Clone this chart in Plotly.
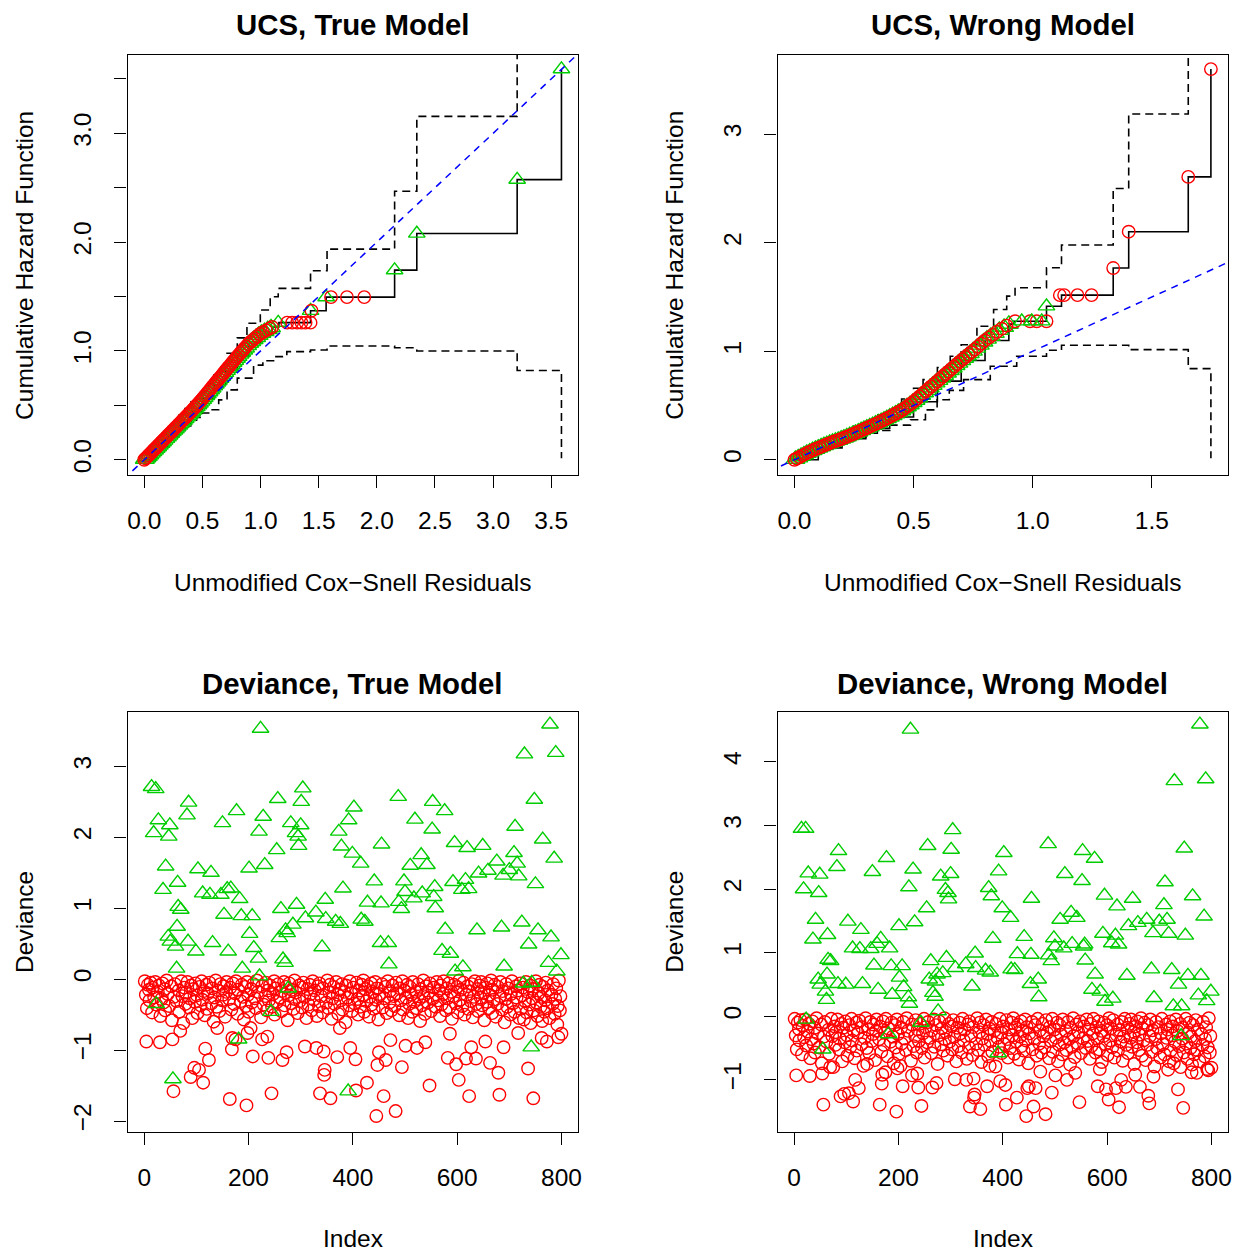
import plotly.graph_objects as go

# ================= DATA =================
# ---- UCS, True Model (cumulative hazard of unmodified Cox-Snell residuals)
ucs_true_step_x = [0, 0.1, 0.2, 0.3, 0.4, 0.5, 0.6, 0.7, 0.8, 0.9, 1.0, 1.1, 1.158, 1.43, 1.564, 2.153, 2.344, 3.207, 3.588]
ucs_true_step_h = [0, 0.11, 0.22, 0.33, 0.44, 0.56, 0.69, 0.82, 0.95, 1.07, 1.16, 1.22, 1.26, 1.37, 1.495, 1.743, 2.08, 2.575, 3.59]
ucs_true_upper_x = [0, 0.05, 0.1, 0.15, 0.2, 0.25, 0.3, 0.35, 0.4, 0.45, 0.5, 0.55, 0.6, 0.66, 0.712, 0.8, 0.883, 0.998,
                    1.083, 1.152, 1.43, 1.572, 2.153, 2.344, 3.207]
ucs_true_upper_h = [0.06, 0.12, 0.18, 0.235, 0.29, 0.35, 0.41, 0.47, 0.53, 0.56, 0.63, 0.70, 0.78, 0.87, 0.979, 1.12, 1.254,
                    1.376, 1.498, 1.575, 1.737, 1.936, 2.468, 3.156, 5.0]
ucs_true_lower_x = [0, 0.05, 0.1, 0.15, 0.2, 0.25, 0.3, 0.35, 0.4, 0.45, 0.5, 0.569, 0.64, 0.712, 0.8, 0.94, 1.02, 1.112,
                    1.226, 1.43, 1.572, 2.153, 2.344, 3.207, 3.588]
ucs_true_lower_h = [0, 0.04, 0.09, 0.14, 0.18, 0.225, 0.27, 0.31, 0.35, 0.39, 0.43, 0.459, 0.55, 0.642, 0.75, 0.87, 0.91,
                    0.948, 0.994, 1.009, 1.046, 1.03, 1.0, 0.82, 0.015]
ucs_true_cens_x = [0.000, 0.011, 0.024, 0.036, 0.049, 0.062, 0.077, 0.090, 0.104, 0.117, 0.131, 0.146, 0.158, 0.172, 0.187,
                   0.201, 0.214, 0.229, 0.243, 0.256, 0.270, 0.284, 0.297, 0.311, 0.326, 0.339, 0.352, 0.366, 0.381, 0.395,
                   0.408, 0.421, 0.435, 0.449, 0.462, 0.476, 0.490, 0.503, 0.517, 0.530, 0.544, 0.558, 0.571, 0.585, 0.599,
                   0.612, 0.626, 0.640, 0.654, 0.668, 0.681, 0.695, 0.709, 0.723, 0.737, 0.752, 0.766, 0.781, 0.795, 0.810,
                   0.826, 0.842, 0.858, 0.875, 0.893, 0.911, 0.930, 0.950, 0.972, 0.995, 1.020, 1.048, 1.077, 1.100,
                   1.229, 1.272, 1.315, 1.352, 1.387, 1.43, 1.438, 1.606, 1.743, 1.892]
ucs_true_cens_h = [0.000, 0.012, 0.026, 0.040, 0.054, 0.068, 0.085, 0.099, 0.114, 0.129, 0.144, 0.161, 0.174, 0.189, 0.206,
                   0.221, 0.235, 0.252, 0.267, 0.282, 0.297, 0.312, 0.327, 0.342, 0.359, 0.373, 0.387, 0.403, 0.419, 0.435,
                   0.450, 0.465, 0.482, 0.499, 0.514, 0.531, 0.548, 0.564, 0.582, 0.599, 0.617, 0.635, 0.652, 0.671, 0.689,
                   0.706, 0.724, 0.742, 0.760, 0.778, 0.795, 0.814, 0.832, 0.850, 0.868, 0.888, 0.906, 0.925, 0.944, 0.962,
                   0.981, 1.000, 1.020, 1.040, 1.062, 1.080, 1.097, 1.115, 1.135, 1.156, 1.172, 1.189, 1.206, 1.220,
                   1.26, 1.26, 1.26, 1.26, 1.26, 1.26, 1.37, 1.495, 1.495, 1.495]
ucs_true_event_x = [0.005, 0.018, 0.030, 0.043, 0.056, 0.069, 0.083, 0.097, 0.110, 0.124, 0.139, 0.152, 0.165, 0.180, 0.194,
                    0.208, 0.222, 0.236, 0.250, 0.263, 0.277, 0.291, 0.304, 0.318, 0.332, 0.346, 0.359, 0.373, 0.388, 0.402,
                    0.415, 0.428, 0.442, 0.456, 0.469, 0.483, 0.497, 0.510, 0.524, 0.537, 0.551, 0.565, 0.578, 0.592, 0.606,
                    0.619, 0.633, 0.647, 0.661, 0.675, 0.688, 0.702, 0.716, 0.730, 0.744, 0.759, 0.773, 0.788, 0.802, 0.818,
                    0.834, 0.850, 0.866, 0.884, 0.902, 0.920, 0.940, 0.961, 0.983, 1.007, 1.034, 1.062, 1.090,
                    1.152, 1.43, 1.564, 2.153, 2.344, 3.207, 3.588]
ucs_true_event_h = [0.006, 0.020, 0.033, 0.047, 0.062, 0.076, 0.091, 0.107, 0.121, 0.136, 0.153, 0.167, 0.182, 0.198, 0.213,
                    0.229, 0.244, 0.260, 0.275, 0.289, 0.305, 0.320, 0.334, 0.350, 0.365, 0.381, 0.395, 0.410, 0.427, 0.442,
                    0.458, 0.474, 0.490, 0.507, 0.523, 0.540, 0.556, 0.573, 0.591, 0.608, 0.626, 0.644, 0.661, 0.680, 0.698,
                    0.715, 0.733, 0.751, 0.769, 0.788, 0.804, 0.823, 0.841, 0.859, 0.877, 0.897, 0.915, 0.934, 0.952, 0.972,
                    0.991, 1.010, 1.029, 1.051, 1.072, 1.088, 1.106, 1.125, 1.145, 1.164, 1.180, 1.197, 1.214,
                    1.26, 1.37, 1.495, 1.743, 2.08, 2.575, 3.59]

# ---- UCS, Wrong Model
ucs_wrong_step_x = [0, 0.1, 0.2, 0.3, 0.4, 0.5, 0.6, 0.7, 0.8, 0.9, 0.92, 1.058, 1.121, 1.338, 1.403, 1.653, 1.748]
ucs_wrong_step_h = [0, 0.11, 0.195, 0.29, 0.395, 0.535, 0.725, 0.915, 1.10, 1.25, 1.277, 1.415, 1.517, 1.767, 2.102, 2.607, 3.60]
ucs_wrong_upper_x = [0, 0.05, 0.1, 0.15, 0.2, 0.25, 0.3, 0.35, 0.4, 0.45, 0.5, 0.54, 0.6, 0.654, 0.7, 0.766, 0.836, 0.891,
                     0.926, 1.058, 1.121, 1.338, 1.403, 1.653]
ucs_wrong_upper_h = [0.07, 0.125, 0.17, 0.215, 0.26, 0.31, 0.36, 0.415, 0.475, 0.56, 0.66, 0.739, 0.85, 0.954, 1.06, 1.231,
                     1.385, 1.508, 1.585, 1.77, 1.979, 2.5, 3.186, 5.0]
ucs_wrong_lower_x = [0, 0.05, 0.1, 0.15, 0.2, 0.25, 0.3, 0.348, 0.4, 0.487, 0.55, 0.599, 0.65, 0.71, 0.822, 0.933, 1.058,
                     1.121, 1.403, 1.653, 1.748]
ucs_wrong_lower_h = [0, 0.05, 0.095, 0.14, 0.175, 0.21, 0.245, 0.27, 0.32, 0.369, 0.46, 0.554, 0.64, 0.739, 0.862, 0.954,
                     1.009, 1.055, 1.015, 0.84, 0.015]
ucs_wrong_cens_x = [0.000, 0.010, 0.022, 0.034, 0.046, 0.058, 0.070, 0.082, 0.094, 0.106, 0.118, 0.130, 0.142, 0.154, 0.166,
                    0.178, 0.190, 0.202, 0.214, 0.226, 0.238, 0.250, 0.262, 0.274, 0.286, 0.298, 0.310, 0.322, 0.334, 0.346,
                    0.358, 0.370, 0.382, 0.394, 0.406, 0.418, 0.430, 0.442, 0.454, 0.466, 0.478, 0.490, 0.502, 0.514, 0.526,
                    0.538, 0.550, 0.562, 0.574, 0.586, 0.598, 0.610, 0.622, 0.634, 0.646, 0.658, 0.670, 0.682, 0.694, 0.706,
                    0.718, 0.730, 0.742, 0.756, 0.770, 0.785, 0.800, 0.816, 0.832, 0.850, 0.870, 0.890,
                    0.926, 0.989, 1.017, 1.058, 1.114, 1.132, 1.188, 1.247, 1.338, 1.403, 1.653, 1.748]
ucs_wrong_cens_h = [0.000, 0.012, 0.026, 0.041, 0.055, 0.068, 0.080, 0.092, 0.104, 0.115, 0.126, 0.137, 0.148, 0.158, 0.168,
                    0.177, 0.187, 0.197, 0.208, 0.218, 0.229, 0.240, 0.252, 0.264, 0.276, 0.288, 0.300, 0.312, 0.324, 0.336,
                    0.349, 0.362, 0.375, 0.388, 0.402, 0.417, 0.431, 0.445, 0.461, 0.480, 0.500, 0.519, 0.539, 0.562, 0.584,
                    0.607, 0.630, 0.653, 0.676, 0.698, 0.721, 0.744, 0.767, 0.790, 0.812, 0.835, 0.858, 0.881, 0.904, 0.926,
                    0.947, 0.969, 0.991, 1.016, 1.043, 1.072, 1.100, 1.126, 1.151, 1.180, 1.208, 1.236,
                    1.277, 1.277, 1.277, 1.277, 1.517, 1.517, 1.517, 1.517, 1.767, 2.102, 2.607, 3.60]
ucs_wrong_event_x = [0.004, 0.016, 0.028, 0.040, 0.052, 0.064, 0.076, 0.088, 0.100, 0.112, 0.124, 0.136, 0.148, 0.160, 0.172,
                     0.184, 0.196, 0.208, 0.220, 0.232, 0.244, 0.256, 0.268, 0.280, 0.292, 0.304, 0.316, 0.328, 0.340, 0.352,
                     0.364, 0.376, 0.388, 0.400, 0.412, 0.424, 0.436, 0.448, 0.460, 0.472, 0.484, 0.496, 0.508, 0.520, 0.532,
                     0.544, 0.556, 0.568, 0.580, 0.592, 0.604, 0.616, 0.628, 0.640, 0.652, 0.664, 0.676, 0.688, 0.700, 0.712,
                     0.724, 0.736, 0.749, 0.763, 0.778, 0.793, 0.808, 0.824, 0.841, 0.860, 0.880, 0.900,
                     0.954, 0.996, 1.038, 1.058]
ucs_wrong_event_h = [0.005, 0.019, 0.034, 0.048, 0.062, 0.074, 0.086, 0.098, 0.110, 0.121, 0.132, 0.142, 0.153, 0.163, 0.173,
                     0.182, 0.192, 0.202, 0.213, 0.224, 0.234, 0.246, 0.258, 0.270, 0.282, 0.294, 0.306, 0.318, 0.330, 0.342,
                     0.355, 0.368, 0.382, 0.395, 0.409, 0.424, 0.438, 0.453, 0.471, 0.490, 0.509, 0.529, 0.550, 0.573, 0.596,
                     0.619, 0.641, 0.664, 0.687, 0.710, 0.733, 0.755, 0.778, 0.801, 0.824, 0.847, 0.870, 0.892, 0.915, 0.937,
                     0.958, 0.980, 1.003, 1.030, 1.058, 1.087, 1.113, 1.139, 1.166, 1.194, 1.222, 1.250,
                     1.277, 1.277, 1.277, 1.415]

# ---- Deviance residuals (index = observation number; same observations in both models)
event_idx = [223, 14, 22, 85, 256, 304, 301, 402, 27, 49, 18, 47, 82, 177, 150, 228, 220, 281, 300, 290, 295, 296,
             373, 378, 392, 399, 254, 41, 103, 128, 201, 231, 64, 36, 112, 126, 147, 166, 159, 183, 381, 65, 70,
             153, 186, 207, 262, 292, 329, 347, 309, 348, 367, 376, 63, 46, 50, 60, 84, 99, 131, 161, 202, 210,
             219, 259, 271, 285, 274, 266, 270, 341, 62, 188, 221, 23, 276, 243, 181, 55, 391,
             778, 729, 789, 487, 553, 576, 748, 519, 552, 711, 455, 595, 619, 649, 764, 531, 709, 415, 510, 542,
             676, 786, 715, 641, 659, 688, 700, 718, 441, 498, 592, 616, 750, 557, 609, 622, 500, 517, 533, 488,
             493, 555, 558, 428, 454, 416, 423, 577, 638, 685, 724, 755, 780, 737, 453, 468, 469, 571, 587, 799,
             775, 690, 611, 596, 791, 727, 743, 742]
dev_true_event = [3.53, 2.71, 2.68, 2.49, 2.54, 2.69, 2.50, 2.42, 2.24, 2.17, 2.06, 2.01, 2.31, 2.37, 2.20, 2.29, 2.08,
                  2.20, 2.17, 2.06, 2.01, 1.88, 2.08, 1.87, 2.24, 1.77, 1.82, 1.59, 1.55, 1.50, 1.56, 1.61, 1.36, 1.26,
                  1.21, 1.19, 1.19, 1.28, 1.27, 1.13, 1.28, 1.02, 0.98, 0.91, 0.89, 0.89, 0.99, 1.05, 0.94, 1.12, 0.86,
                  0.85, 0.81, 0.78, 0.74, 0.60, 0.53, 0.46, 0.53, 0.39, 0.51, 0.39, 0.64, 0.44, 0.29, 0.58, 0.69, 0.77,
                  0.65, 0.28, 0.23, 0.45, 0.15, 0.15, 0.04, -0.35, -0.13, -0.46, -0.85, -1.41, -1.58,
                  3.59, 3.17, 3.19, 2.57, 2.50, 2.37, 2.53, 2.25, 2.11, 2.15, 1.90, 1.92, 1.85, 1.88, 1.97, 1.75, 1.78,
                  1.63, 1.60, 1.61, 1.66, 1.70, 1.63, 1.49, 1.53, 1.46, 1.54, 1.45, 1.38, 1.38, 1.37, 1.40, 1.34, 1.30,
                  1.26, 1.27, 1.23, 1.14, 1.21, 1.09, 0.99, 1.16, 1.00, 1.08, 1.07, 0.84, 0.81, 0.70, 0.69, 0.73, 0.80,
                  0.69, 0.59, 0.49, 0.51, 0.51, 0.21, 0.40, 0.36, 0.34, 0.23, 0.18, 0.17, 0.11, 0.11, -0.06, -0.05, -0.96]
dev_wrong_event = [4.51, 2.95, 2.95, 2.60, 2.68, 2.93, 2.62, 2.57, 2.25, 2.23, 2.00, 1.94, 2.35, 2.49, 2.27, 2.31, 2.03,
                   2.20, 2.24, 1.99, 1.94, 1.84, 2.02, 1.89, 2.28, 1.70, 1.70, 1.52, 1.49, 1.36, 1.42, 1.48, 1.28, 1.21,
                   1.07, 1.06, 1.06, 1.22, 1.14, 1.07, 1.22, 0.89, 0.87, 0.80, 0.79, 0.79, 0.87, 0.92, 0.82, 0.99, 0.76,
                   0.76, 0.72, 0.69, 0.66, 0.58, 0.50, 0.39, 0.51, 0.50, 0.51, 0.42, 0.61, 0.46, 0.30, 0.58, 0.55, 0.68,
                   0.66, 0.37, 0.31, 0.47, 0.26, 0.34, 0.20, -0.05, 0.08, -0.10, -0.28, -0.52, -0.58,
                   4.59, 3.70, 3.73, 2.71, 2.60, 2.48, 2.64, 2.24, 2.13, 2.11, 1.85, 1.90, 1.73, 1.85, 1.89, 1.63, 1.75,
                   1.55, 1.52, 1.55, 1.52, 1.57, 1.52, 1.42, 1.47, 1.31, 1.49, 1.30, 1.25, 1.23, 1.30, 1.27, 1.27, 1.13,
                   1.15, 1.13, 1.10, 1.07, 1.14, 0.96, 0.87, 1.10, 0.88, 0.98, 0.97, 0.74, 0.73, 0.66, 0.64, 0.74, 0.73,
                   0.64, 0.64, 0.50, 0.51, 0.58, 0.30, 0.42, 0.39, 0.39, 0.33, 0.29, 0.28, 0.23, 0.24, 0.16, 0.16, -0.31]

cens_band_idx = [1, 3, 5, 7, 9, 10, 12, 15, 16, 19, 21, 23, 26, 28, 31, 33, 35, 37, 39, 40, 43, 45, 48, 52, 53, 57, 59, 62, 66, 67, 71, 73, 75, 77, 79,
                 80, 83, 86, 87, 90, 92, 94, 97, 98, 101, 102, 106, 108, 110, 111, 114, 116, 119, 120, 122, 125, 129, 130, 133, 135, 137, 139, 142, 144, 146, 149, 151, 152, 155, 157, 158,
                 163, 165, 167, 170, 172, 174, 176, 179, 180, 185, 187, 189, 191, 193, 195, 197, 199, 200, 205, 206, 209, 212, 214, 216, 218, 224, 226, 229, 232, 233, 235, 237, 239,
                 241, 245, 247, 249, 250, 252, 255, 257, 260, 263, 264, 268, 269, 272, 275, 277, 278, 282, 283, 286, 288, 289, 291, 294, 297, 298, 302, 303, 305, 307, 311, 313, 315, 317, 319,
                 321, 323, 325, 327, 331, 333, 335, 336, 339, 342, 343, 349, 351, 353, 355, 356, 359, 361, 363, 365, 368, 371, 372, 374, 377, 379, 380, 384, 386, 387, 390, 393, 394, 397, 398,
                 400, 403, 407, 409, 410, 412, 414, 417, 419, 420, 422, 424, 426, 429, 431, 433, 435, 436, 438, 440, 443, 444, 446, 449, 451, 456, 457, 460, 462, 465, 467, 470, 471, 474, 476, 478,
                 480, 483, 485, 489, 490, 492, 495, 496, 499, 502, 504, 506, 508, 509, 512, 514, 515, 518, 521, 522, 525, 527, 529, 530, 533, 535, 536, 538, 541, 544, 545, 548, 550, 554, 556, 559,
                 561, 563, 565, 567, 568, 570, 573, 574, 578, 580, 581, 584, 585, 589, 590, 593, 594, 597, 600, 601, 604, 606, 607, 610, 612, 614, 618, 620, 621, 624, 626, 628, 630, 632, 634, 637, 639,
                 640, 643, 645, 646, 648, 651, 652, 655, 657, 658, 661, 662, 665, 667, 668, 670, 672, 674, 677, 678, 682, 683, 686, 687, 691, 693, 694, 696, 698, 702, 703, 705, 707, 710, 713, 714, 716, 719,
                 721, 722, 725, 726, 728, 730, 732, 733, 735, 738, 740, 741, 744, 745, 747, 751, 752, 754, 756, 758, 760, 761, 763, 765, 767, 769, 770, 773, 774, 777, 781, 783, 784, 787, 788, 790, 792, 793, 795, 797, 798]
# deviance x100 (censored observations are all negative)
dev_true_band = [-3, -22, -41, -8, -15, -30, -5, -47, -12, -26, -4, -36, -18, -9, -52, -28, -6, -33, -14, -44, -2, -21, -38, -10, -58, -25, -7, -31, -16, -46, -3, -24, -62, -12, -35,
                 -19, -4, -40, -27, -9, -55, -14, -32, -6, -23, -48, -11, -37, -3, -29, -17, -51, -8, -42, -20, -5, -34, -13, -60, -26, -2, -39, -16, -45, -7, -30, -22, -10, -53, -18, -4,
                 -28, -12, -43, -6, -35, -20, -3, -49, -15, -31, -8, -25, -57, -11, -38, -4, -22, -46, -14, -33, -7, -27, -41, -2, -18, -54, -10, -36, -24, -5, -44, -16, -30,
                 -9, -39, -21, -3, -50, -13, -32, -7, -26, -45, -17, -4, -37, -11, -58, -23, -6, -34, -15, -42, -2, -28, -19, -48, -9, -31, -12, -40, -5, -25, -55, -14, -36, -8, -21,
                 -44, -3, -29, -16, -52, -10, -38, -6, -24, -47, -13, -33, -2, -41, -19, -8, -56, -27, -11, -35, -4, -22, -49, -15, -30, -7, -43, -18, -61, -9, -26, -37, -3, -20, -45,
                 -12, -34, -5, -28, -50, -16, -39, -8, -23, -2, -46, -14, -31, -10, -53, -25, -6, -36, -18, -42, -4, -29, -13, -57, -21, -7, -40, -27, -11, -48, -3, -33, -17, -44, -9, -24,
                 -38, -5, -20, -51, -13, -30, -3, -43, -16, -26, -8, -55, -35, -11, -22, -46, -4, -32, -18, -41, -7, -28, -59, -14, -37, -2, -24, -49, -10, -33, -19, -6, -45, -27, -12, -39,
                 -4, -30, -16, -52, -9, -36, -21, -3, -44, -13, -27, -6, -40, -18, -56, -24, -8, -34, -11, -47, -2, -29, -15, -38, -5, -50, -22, -10, -42, -17, -31, -7, -54, -25, -3, -35, -14,
                 -45, -9, -26, -4, -37, -19, -58, -12, -32, -6, -41, -22, -2, -48, -15, -29, -8, -53, -35, -11, -24, -4, -43, -17, -61, -28, -7, -39, -13, -50, -21, -3, -34, -46, -10, -26, -16, -55,
                 -6, -42, -23, -12, -57, -31, -4, -47, -18, -36, -9, -62, -27, -14, -44, -3, -33, -52, -20, -8, -39, -25, -59, -11, -46, -30, -5, -41, -16, -55, -22, -35, -7, -49, -28, -13, -64, -38, -2, -44, -24]
dev_wrong_band = [-4, -30, -52, -10, -20, -38, -6, -60, -15, -33, -5, -46, -24, -12, -66, -36, -8, -43, -18, -57, -3, -27, -49, -13, -74, -32, -9, -40, -21, -59, -4, -31, -80, -16, -45,
                  -25, -5, -52, -35, -12, -71, -18, -41, -8, -30, -62, -14, -48, -4, -38, -22, -66, -10, -54, -26, -7, -44, -17, -78, -34, -3, -50, -21, -58, -9, -39, -28, -13, -69, -23, -5,
                  -36, -16, -56, -8, -45, -26, -4, -63, -19, -40, -10, -32, -74, -14, -49, -5, -28, -60, -18, -43, -9, -35, -53, -3, -23, -70, -13, -47, -31, -6, -57, -21, -39,
                  -12, -50, -27, -4, -65, -17, -41, -9, -34, -58, -22, -5, -48, -14, -75, -30, -8, -44, -19, -54, -3, -36, -25, -62, -12, -40, -16, -52, -6, -32, -71, -18, -47, -10, -27,
                  -57, -4, -38, -21, -67, -13, -49, -8, -31, -61, -17, -43, -3, -53, -25, -10, -72, -35, -14, -45, -5, -28, -63, -19, -39, -9, -56, -23, -79, -12, -34, -48, -4, -26, -58,
                  -16, -44, -6, -36, -65, -21, -50, -10, -30, -3, -59, -18, -40, -13, -68, -32, -8, -47, -23, -54, -5, -38, -17, -74, -27, -9, -52, -35, -14, -62, -4, -43, -22, -57, -12, -31,
                  -49, -6, -26, -66, -17, -39, -4, -56, -21, -34, -10, -71, -45, -14, -29, -60, -5, -41, -23, -53, -9, -36, -76, -18, -48, -3, -31, -64, -13, -43, -25, -8, -58, -35, -16, -50,
                  -5, -39, -21, -67, -12, -47, -27, -4, -57, -17, -35, -8, -52, -23, -72, -31, -10, -44, -14, -61, -3, -38, -19, -49, -6, -65, -29, -13, -54, -22, -40, -9, -70, -32, -4, -45, -18,
                  -58, -12, -34, -5, -48, -25, -75, -16, -41, -8, -53, -29, -3, -62, -19, -38, -10, -69, -45, -14, -31, -5, -56, -22, -79, -36, -9, -50, -17, -65, -27, -4, -44, -60, -13, -34, -21, -71,
                  -8, -54, -30, -16, -74, -40, -5, -61, -23, -47, -12, -80, -35, -18, -57, -4, -43, -67, -26, -10, -50, -32, -76, -14, -60, -39, -6, -53, -21, -71, -28, -45, -9, -63, -36, -17, -83, -49, -3, -57, -31]

cens_low_idx = [4, 30, 54, 56, 69, 89, 96, 105, 113, 117, 124, 140, 164, 168, 169, 175, 196, 198, 204, 208, 226, 236, 238,
                244, 265, 273, 308, 330, 337, 344, 345, 346, 357, 370, 375, 395, 405, 406, 427, 445, 447, 450, 459, 463,
                472, 482, 494, 501, 523, 539, 547, 582, 586, 598, 603, 617, 623, 627, 636, 654, 663, 679, 681, 689, 717,
                736, 746, 762, 772, 794, 800]
dev_true_low = [-0.88, -0.89, -0.85, -1.58, -0.73, -1.38, -1.25, -1.28, -1.46, -0.98, -1.14, -0.69, -1.69, -0.99, -0.83,
                -0.85, -1.78, -0.76, -0.69, -1.09, -0.85, -0.81, -1.11, -1.61, -1.14, -1.03, -0.95, -0.97, -1.61, -1.02,
                -1.35, -1.28, -1.68, -1.10, -0.69, -0.97, -1.13, -1.57, -1.46, -1.93, -1.21, -1.03, -1.65, -1.14, -0.86,
                -1.86, -1.24, -0.94, -0.97, -0.89, -1.50, -1.11, -0.77, -1.20, -1.42, -1.12, -1.65, -0.96, -1.12, -0.88,
                -1.18, -1.32, -1.63, -0.96, -0.76, -1.26, -1.68, -0.83, -0.88, -0.82, -0.77]
dev_wrong_low = [-0.93, -0.94, -0.90, -1.39, -0.80, -1.26, -1.22, -1.21, -1.34, -1.00, -1.13, -0.75, -1.39, -1.06, -0.92,
                 -0.88, -1.50, -0.82, -0.78, -1.10, -0.93, -0.90, -1.12, -1.41, -1.12, -1.05, -0.99, -1.00, -1.42, -0.98,
                 -1.28, -1.23, -1.46, -1.10, -0.78, -1.02, -1.08, -1.39, -1.28, -1.57, -1.13, -1.10, -1.42, -1.13, -0.87,
                 -1.54, -1.20, -0.93, -1.00, -0.89, -1.35, -1.10, -0.83, -1.15, -1.31, -1.13, -1.43, -1.00, -1.11, -0.92,
                 -1.11, -1.25, -1.37, -0.95, -0.84, -1.15, -1.44, -0.88, -0.89, -0.85, -0.81]

# ---- Tick labels
ucs_true_xticks = [0, 0.5, 1.0, 1.5, 2.0, 2.5, 3.0, 3.5]
ucs_true_xtext = ["0.0", "0.5", "1.0", "1.5", "2.0", "2.5", "3.0", "3.5"]
ucs_true_yticks = [0, 0.5, 1.0, 1.5, 2.0, 2.5, 3.0, 3.5]
ucs_true_ytext = ["0.0", "", "1.0", "", "2.0", "", "3.0", ""]
ucs_wrong_xticks = [0, 0.5, 1.0, 1.5]
ucs_wrong_xtext = ["0.0", "0.5", "1.0", "1.5"]
ucs_wrong_yticks = [0, 1, 2, 3]
ucs_wrong_ytext = ["0", "1", "2", "3"]
dev_xticks = [0, 200, 400, 600, 800]
dev_xtext = ["0", "200", "400", "600", "800"]
dev_true_yticks = [-2, -1, 0, 1, 2, 3]
dev_true_ytext = ["\u22122", "\u22121", "0", "1", "2", "3"]
dev_wrong_yticks = [-1, 0, 1, 2, 3, 4]
dev_wrong_ytext = ["\u22121", "0", "1", "2", "3", "4"]

# ================= STYLE / LAYOUT =================
W, H = 1248, 1253
FONT = "Liberation Sans, Arial, Helvetica, sans-serif"
FS = 24.5
RED = "#FF0000"
GREEN = "#00CD00"
BLUE = "#0000FF"

XD_L = [128 / W, 580 / W]
XD_R = [780 / W, 1232 / W]
YD_T = [1 - 475 / H, 1 - 55 / H]
YD_B = [1 - 1132 / H, 1 - 712 / H]

fig = go.Figure()


def step_line(x, y, xa, ya, dash=None, width=1.6):
    fig.add_trace(go.Scatter(x=x, y=y, mode="lines", line=dict(color="black", width=width, shape="hv", dash=dash),
                             xaxis=xa, yaxis=ya, hoverinfo="skip", showlegend=False))


def pts(x, y, xa, ya, kind, tri_size=14.5):
    if kind == "c":
        m = dict(symbol="circle-open", size=12.5, color=RED, line=dict(color=RED, width=1.4))
    else:
        m = dict(symbol="triangle-up-open", size=tri_size, color=GREEN, line=dict(color=GREEN, width=1.4))
    fig.add_trace(go.Scatter(x=x, y=y, mode="markers", marker=m, xaxis=xa, yaxis=ya,
                             showlegend=False, cliponaxis=True))


def ref_line(xa, ya, lo, hi):
    fig.add_trace(go.Scatter(x=[lo, hi], y=[lo, hi], mode="lines",
                             line=dict(color=BLUE, width=1.5, dash="7px,6px"),
                             xaxis=xa, yaxis=ya, hoverinfo="skip", showlegend=False))


def split(xs, hs, cut):
    dense = [(a, b) for a, b in zip(xs, hs) if a < cut]
    sparse = [(a, b) for a, b in zip(xs, hs) if a >= cut]
    return ([a for a, _ in dense], [b for _, b in dense]), ([a for a, _ in sparse], [b for _, b in sparse])


DASH = "8px,5px"
# Panel 1: UCS true
step_line(ucs_true_upper_x, ucs_true_upper_h, "x", "y", DASH)
step_line(ucs_true_lower_x, ucs_true_lower_h, "x", "y", DASH)
step_line(ucs_true_step_x, ucs_true_step_h, "x", "y")
(td_x, td_h), (ts_x, ts_h) = split(ucs_true_event_x, ucs_true_event_h, 1.12)
pts(td_x, td_h, "x", "y", "t", 16.5)
pts(ts_x, ts_h, "x", "y", "t")
pts(ucs_true_cens_x, ucs_true_cens_h, "x", "y", "c")
ref_line("x", "y", -1, 5)

# Panel 2: UCS wrong
step_line(ucs_wrong_upper_x, ucs_wrong_upper_h, "x2", "y2", DASH)
step_line(ucs_wrong_lower_x, ucs_wrong_lower_h, "x2", "y2", DASH)
step_line(ucs_wrong_step_x, ucs_wrong_step_h, "x2", "y2")
(wd_x, wd_h), (ws_x, ws_h) = split(ucs_wrong_event_x, ucs_wrong_event_h, 0.92)
pts(wd_x, wd_h, "x2", "y2", "t", 16.5)
pts(ucs_wrong_cens_x, ucs_wrong_cens_h, "x2", "y2", "c")
pts(ws_x, ws_h, "x2", "y2", "t")
ref_line("x2", "y2", -1, 5)

# Panel 3 & 4: deviance
cens_idx = cens_band_idx + cens_low_idx
dev_true_cens = [v / 100 for v in dev_true_band] + dev_true_low
dev_wrong_cens = [v / 100 for v in dev_wrong_band] + dev_wrong_low
pts(cens_idx, dev_true_cens, "x3", "y3", "c")
pts(event_idx, dev_true_event, "x3", "y3", "t")
pts(cens_idx, dev_wrong_cens, "x4", "y4", "c")
pts(event_idx, dev_wrong_event, "x4", "y4", "t")


def axis(domain, rng, tv, tt, anchor, is_y=False):
    d = dict(domain=domain, range=rng, tickmode="array", tickvals=tv, ticktext=tt, anchor=anchor,
             showline=True, linecolor="black", linewidth=1.4, mirror=True,
             ticks="outside", ticklen=12, tickwidth=1.4, tickcolor="black",
             showgrid=False, zeroline=False, fixedrange=True,
             tickfont=dict(family=FONT, size=FS, color="black"))
    if is_y:
        d["tickangle"] = -90
        d["ticklabelstandoff"] = 14
    else:
        d["ticklabelstandoff"] = 11
    return d


fig.update_layout(
    width=W, height=H, autosize=False,
    margin=dict(l=0, r=0, t=0, b=0),
    paper_bgcolor="white", plot_bgcolor="white",
    showlegend=False,
    xaxis=axis(XD_L, [-0.1435, 3.7315], ucs_true_xticks, ucs_true_xtext, "y"),
    yaxis=axis(YD_T, [-0.14, 3.72], ucs_true_yticks, ucs_true_ytext, "x", True),
    xaxis2=axis(XD_R, [-0.071, 1.82], ucs_wrong_xticks, ucs_wrong_xtext, "y2"),
    yaxis2=axis(YD_T, [-0.14, 3.73], ucs_wrong_yticks, ucs_wrong_ytext, "x2", True),
    xaxis3=axis(XD_L, [-31.96, 831.96], dev_xticks, dev_xtext, "y3"),
    yaxis3=axis(YD_B, [-2.155, 3.765], dev_true_yticks, dev_true_ytext, "x3", True),
    xaxis4=axis(XD_R, [-31.96, 831.96], dev_xticks, dev_xtext, "y4"),
    yaxis4=axis(YD_B, [-1.82, 4.785], dev_wrong_yticks, dev_wrong_ytext, "x4", True),
)


def ann(text, px, py, size=FS, angle=0, bold=False):
    fig.add_annotation(text=("<b>%s</b>" % text) if bold else text, x=px / W, y=1 - py / H,
                       xref="paper", yref="paper", showarrow=False, xanchor="center", yanchor="middle",
                       textangle=angle, font=dict(family=FONT, size=size, color="black"))


TS = 29.4
ann("UCS, True Model", 354, 25, TS, bold=True)
ann("UCS, Wrong Model", 1006, 25, TS, bold=True)
ann("Deviance, True Model", 354, 683, TS, bold=True)
ann("Deviance, Wrong Model", 1006, 683, TS, bold=True)
ann("Unmodified Cox\u2212Snell Residuals", 354, 582)
ann("Unmodified Cox\u2212Snell Residuals", 1006, 582)
ann("Index", 354, 1238)
ann("Index", 1006, 1238)
ann("Cumulative Hazard Function", 24, 265, angle=-90)
ann("Cumulative Hazard Function", 676, 265, angle=-90)
ann("Deviance", 24, 922, angle=-90)
ann("Deviance", 676, 922, angle=-90)

fig.write_html("out.html")
